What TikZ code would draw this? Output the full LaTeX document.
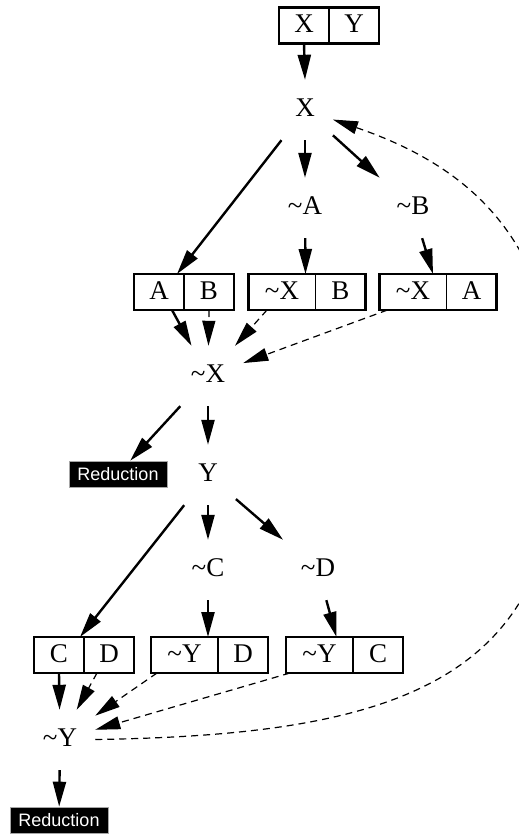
\documentclass[tikz,border=0pt]{standalone}
\usepackage{fontspec}
\setmainfont{Liberation Serif}
\setsansfont{Liberation Sans}
\usetikzlibrary{arrows.meta,positioning}
\newcommand{\tld}{\textasciitilde}

\begin{document}
\begin{tikzpicture}[
	x=1pt, y=-1pt,
	every node/.style={font=\fontsize{27}{30}\selectfont},
	lit/.style={minimum width=48pt, minimum height=60pt, inner xsep=18pt, inner ysep=0pt, text height=18pt, text depth=6pt},
	cell/.style={draw, line width=1.7pt, outer sep=0pt, inner sep=0pt, minimum width=50pt, minimum height=36pt, text height=18pt, text depth=4pt},
	widecell/.style={cell, minimum width=67pt},
	frame/.style={line width=2.7pt},
	reduce/.style={fill=black, draw=black!35, line width=0.6pt, text=white, inner sep=0pt, minimum width=98pt, minimum height=26pt, font=\sffamily\fontsize{18}{20}\selectfont},
	go/.style={-{Triangle[length=25pt, width=13pt]}, line width=2.4pt},
	back/.style={go, line width=1.2pt, dash pattern=on 7pt off 5pt}
]
\useasboundingbox (0,0) rectangle (519,835);
\clip (0,0) rectangle (519,835);

% first goal
\node[cell] (xy1) at (304,25.5) {X};
\node[cell, right=0pt of xy1] (xy2) {Y};
\node[lit] (X) at (305,110) {X};
\node[lit] (nA) at (305,208) {\tld A};
\node[lit] (nB) at (413,208) {\tld B};
\node[cell] (ab1) at (159,292) {A};
\node[cell, right=0pt of ab1] (ab2) {B};
\node[widecell] (xb1) at (282,292) {\tld X};
\node[cell, right=0pt of xb1] (xb2) {B};
\node[widecell] (xa1) at (413,292) {\tld X};
\node[cell, right=0pt of xa1] (xa2) {A};
\node[lit] (nX) at (208,376) {\tld X};
\node[reduce] (red1) at (118,474) {Reduction};

% second goal
\node[lit] (Y) at (208,475) {Y};
\node[lit] (nC) at (208,570) {\tld C};
\node[lit] (nD) at (318,570) {\tld D};
\node[cell] (cd1) at (59,655) {C};
\node[cell, right=0pt of cd1] (cd2) {D};
\node[widecell] (yd1) at (184.5,655) {\tld Y};
\node[cell, right=0pt of yd1] (yd2) {D};
\node[widecell] (yc1) at (319.5,655) {\tld Y};
\node[cell, right=0pt of yc1] (yc2) {C};
\node[lit] (nY) at (60,740) {\tld Y};
\node[reduce] (red2) at (59,820) {Reduction};
\coordinate (bend) at (560,430);

% record frames
\draw[frame] (xy1.north west) rectangle (xy2.south east);
\draw[frame] (ab1.north west) rectangle (ab2.south east);
\draw[frame] (xb1.north west) rectangle (xb2.south east);
\draw[frame] (xa1.north west) rectangle (xa2.south east);
\draw[frame] (cd1.north west) rectangle (cd2.south east);
\draw[frame] (yd1.north west) rectangle (yd2.south east);
\draw[frame] (yc1.north west) rectangle (yc2.south east);

\draw[go] (xy1.south) -- (X.north);
\draw[go] (X) -- ([xshift=-7pt]ab1.north east);
\draw[go] (X) -- (nA);
\draw[go] (X) -- (nB);
\draw[go] (nA) -- ([xshift=-10pt]xb1.north east);
\draw[go] (nB) -- ([xshift=20pt]xa1.north);
\draw[go] ([xshift=13pt]ab1.south) -- (nX);
\draw[back] (ab2.south) -- (nX);
\draw[back] ([xshift=-15pt]xb1.south) -- (nX);
\draw[back] ([xshift=8pt]xa1.south west) -- (nX);
\draw[go] (nX) -- (red1);
\draw[go] (nX) -- (Y);

\draw[go] (Y) -- ([xshift=-4pt]cd1.north east);
\draw[go] (Y) -- (nC);
\draw[go] (Y) -- (nD);
\draw[go] (nC) -- ([xshift=-10pt]yd1.north east);
\draw[go] (nD) -- ([xshift=17pt]yc1.north);
\draw[go] (cd1.south) -- (nY);
\draw[back] ([xshift=-12pt]cd2.south) -- (nY);
\draw[back] ([xshift=6pt]yd1.south west) -- (nY);
\draw[back] ([xshift=4pt]yc1.south west) -- (nY);
\draw[go] (nY) -- (red2);

% back to the first goal
\draw[back] (nY) .. controls (400,735) and (560,680) .. (bend)
	.. controls (560,250) and (480,170) .. (X);
\end{tikzpicture}
\end{document}
